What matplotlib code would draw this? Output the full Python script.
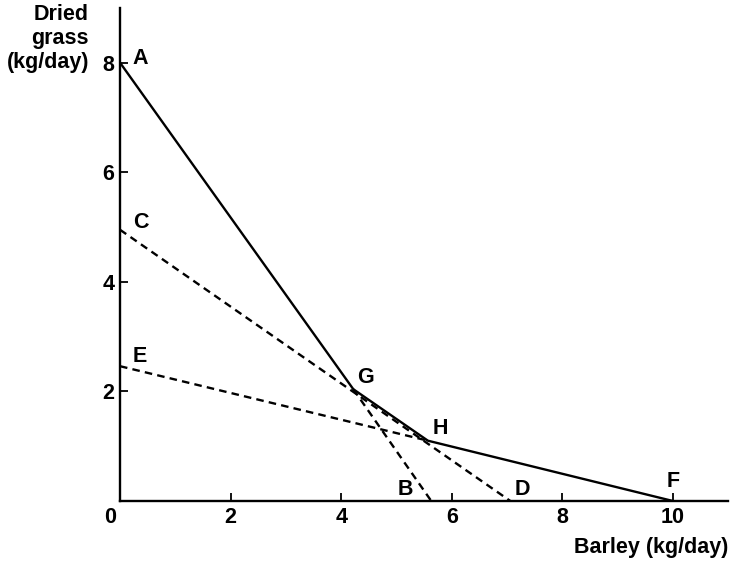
import numpy as np
import matplotlib.pyplot as plt
from matplotlib.transforms import ScaledTranslation

plt.rcParams['font.family'] = ['Liberation Sans', 'DejaVu Sans']
plt.rcParams['font.weight'] = 'bold'

# intercepts and corner points (kg/day)
A = (0, 8.0)
B = (5.63, 0)
C = (0, 4.95)
D = (7.06, 0)
E = (0, 2.46)
F = (10.0, 0)
G = (4.22, 2.04)
H = (5.57, 1.10)

frontier_x = [A[0], G[0], H[0], F[0]]
frontier_y = [A[1], G[1], H[1], F[1]]

x_ticks = [0, 2, 4, 6, 8, 10]
y_ticks = [2, 4, 6, 8]

fig = plt.figure(figsize=(7.3, 5.61), dpi=100)
ax = fig.add_axes([0.1644, 0.107, 0.833, 0.879])

# solid kinked frontier A-G-H-F
ax.plot(frontier_x, frontier_y, color='black', lw=1.7, solid_joinstyle='miter')
# dashed continuations
dash = dict(color='black', lw=1.7, ls=(0, (3.2, 2.2)))
ax.plot([G[0], B[0]], [G[1], B[1]], **dash)
ax.plot([C[0], D[0]], [C[1], D[1]], **dash)
ax.plot([E[0], H[0]], [E[1], H[1]], **dash)

fs = 15.5
# letter positions: left edge, baseline
labels = {'A': (0.23, 7.97), 'C': (0.23, 4.99), 'E': (0.23, 2.54),
          'G': (4.29, 2.16), 'H': (5.66, 1.22), 'B': (5.03, 0.11),
          'D': (7.14, 0.11), 'F': (9.89, 0.26)}
for name, (lx, ly) in labels.items():
    ax.text(lx, ly, name, fontsize=fs, ha='left', va='baseline')

ax.set_xlim(0, 11)
ax.set_ylim(0, 9)
ax.set_xticks(x_ticks)
ax.set_yticks(y_ticks)
ax.set_xticklabels([str(t) for t in x_ticks], fontsize=fs)
ax.set_yticklabels([str(t) for t in y_ticks], fontsize=fs)
ax.tick_params(direction='in', length=6, width=1.3, pad=4)
# nudge the origin label off the y axis
zero = ax.xaxis.get_majorticklabels()[0]
zero.set_horizontalalignment('right')
zero.set_transform(zero.get_transform() + ScaledTranslation(-0.04, 0, fig.dpi_scale_trans))

for s in ['top', 'right']:
    ax.spines[s].set_visible(False)
for s in ['left', 'bottom']:
    ax.spines[s].set_linewidth(1.7)

fig.text(728 / 730, 1 - 547 / 561, 'Barley (kg/day)', fontsize=fs,
         ha='right', va='center')
fig.text(89 / 730, 1 - 4 / 561, 'Dried\ngrass\n(kg/day)', fontsize=fs,
         ha='right', va='top', linespacing=1.2)

fig.savefig('out.png', dpi=100)
